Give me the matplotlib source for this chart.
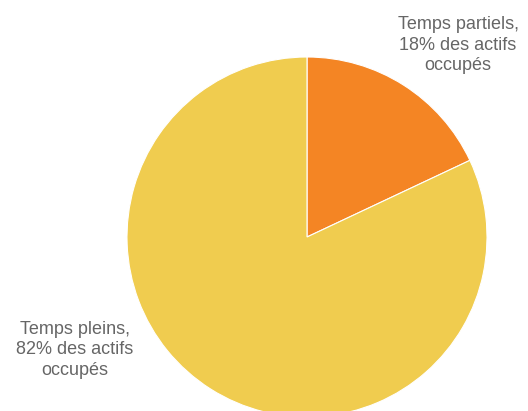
import matplotlib.pyplot as plt

labels = ['Temps partiels,\n18% des actifs\noccupés', 'Temps pleins,\n82% des actifs\noccupés']
values = [18, 82]
colors = ['#F48524', '#F0CC4F']

fig = plt.figure(figsize=(5.28, 4.11), dpi=100)
ax = fig.add_axes([0, 0, 1, 1])

ax.pie(values, colors=colors, startangle=90, counterclock=False,
       center=(307, 174), radius=180, frame=True,
       wedgeprops={'edgecolor': 'white', 'linewidth': 0.8})

ax.set_xlim(0, 528)
ax.set_ylim(0, 411)
ax.set_aspect('equal')
ax.axis('off')

ax.text(458, 366, labels[0], ha='center', va='center', fontsize=13,
        color='#666666', family='Liberation Sans', linespacing=1.25)
ax.text(75, 61, labels[1], ha='center', va='center', fontsize=13,
        color='#666666', family='Liberation Sans', linespacing=1.25)

fig.savefig('out.png', dpi=100)
